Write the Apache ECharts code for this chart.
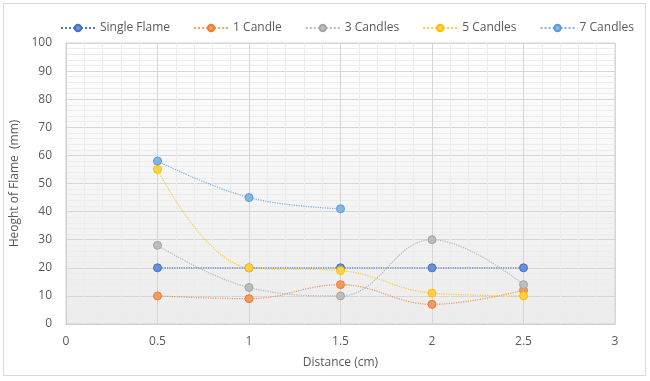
<!DOCTYPE html>
<html>
<head>
<meta charset="utf-8">
<script src="https://cdn.jsdelivr.net/npm/echarts@6/dist/echarts.min.js"></script>
<style>
  html, body { margin: 0; padding: 0; background: #ffffff; }
  #chart { width: 650px; height: 381px; }
</style>
</head>
<body>
<div id="chart"></div>
<script>
// Flame height measured at several distances, per candle setup
const distances = [0.5, 1, 1.5, 2, 2.5];
const singleFlame = [20, 20, 20, 20, 20];
const oneCandle = [10, 9, 14, 7, 12];
const threeCandles = [28, 13, 10, 30, 14];
const fiveCandles = [55, 20, 19, 11, 10];
const sevenCandles = [58, 45, 41];

const seriesNames = ['Single Flame', '1 Candle', '3 Candles', '5 Candles', '7 Candles'];
const seriesValues = [singleFlame, oneCandle, threeCandles, fiveCandles, sevenCandles];
const lineColors = ['#4472C4', '#ED7D31', '#A5A5A5', '#FFC000', '#5B9BD5'];
const fillColors = ['#6a8fd6', '#f29a62', '#bdbdbd', '#ffd147', '#85b5e2'];

const textColor = '#595959';
const font = 'Open Sans';

const series = seriesNames.map((name, i) => ({
  name: name,
  type: 'line',
  smooth: 0.4,
  data: seriesValues[i].map((v, j) => [distances[j], v]),
  symbol: 'circle',
  symbolSize: 8,
  lineStyle: { color: lineColors[i], width: 1.2, type: 'dotted', opacity: i === 0 ? 0.95 : 0.75 },
  itemStyle: { color: fillColors[i], borderColor: lineColors[i], borderWidth: 1 },
  emphasis: { disabled: true },
  z: 2 + i
}));

const chart = echarts.init(document.getElementById('chart'), null, { renderer: 'canvas' });
chart.setOption({
  animation: false,
  backgroundColor: '#ffffff',
  graphic: [{
    type: 'rect',
    shape: { x: 3.5, y: 3.5, width: 642, height: 372 },
    style: { fill: 'none', stroke: '#d9d9d9', lineWidth: 1 },
    silent: true
  }],
  legend: {
    top: 17,
    left: 55,
    itemWidth: 34,
    itemHeight: 8,
    itemGap: 23,
    textStyle: { color: textColor, fontFamily: font, fontSize: 12 },
    data: seriesNames
  },
  grid: {
    left: 66,
    right: 35,
    top: 43,
    bottom: 57,
    show: true,
    borderColor: '#d0d0d0',
    borderWidth: 1,
    backgroundColor: new echarts.graphic.LinearGradient(0, 0, 0, 1, [
      { offset: 0, color: '#ffffff' },
      { offset: 1, color: '#ececec' }
    ])
  },
  xAxis: {
    type: 'value',
    min: 0,
    max: 3,
    interval: 0.5,
    name: 'Distance (cm)',
    nameLocation: 'middle',
    nameGap: 33,
    nameTextStyle: { color: textColor, fontFamily: font, fontSize: 12 },
    axisLine: { show: true, lineStyle: { color: '#d0d0d0' } },
    axisTick: { show: false },
    axisLabel: { color: textColor, fontFamily: font, fontSize: 12, margin: 12 },
    splitLine: { show: true, lineStyle: { color: '#d6d6d6', width: 1 } },
    minorTick: { show: false, splitNumber: 5 },
    minorSplitLine: { show: true, lineStyle: { color: '#ececec', width: 1 } }
  },
  yAxis: {
    type: 'value',
    min: 0,
    max: 100,
    interval: 10,
    name: 'Heoght of Flame  (mm)',
    nameLocation: 'middle',
    nameGap: 33,
    nameRotate: 90,
    nameTextStyle: { color: textColor, fontFamily: font, fontSize: 12 },
    axisLine: { show: true, lineStyle: { color: '#d0d0d0' } },
    axisTick: { show: false },
    axisLabel: { color: textColor, fontFamily: font, fontSize: 12, margin: 14 },
    splitLine: { show: true, lineStyle: { color: '#d6d6d6', width: 1 } },
    minorTick: { show: false, splitNumber: 5 },
    minorSplitLine: { show: true, lineStyle: { color: '#ececec', width: 1 } }
  },
  series: series
});
</script>
</body>
</html>
